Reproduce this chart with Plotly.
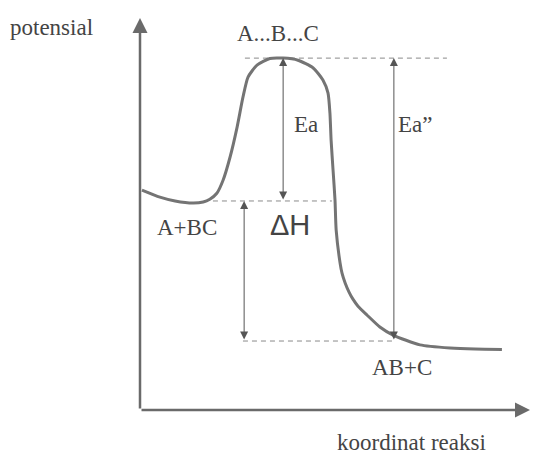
import plotly.graph_objects as go

# Reaction coordinate (arbitrary units) and potential energy (arbitrary units)
reaction_coord = [0.5, 5.1, 9.0, 13.6, 16.2, 17.9, 19.7, 21.3, 23.1, 24.9, 26.4, 27.7,
                  30.0, 33.3, 36.7, 40.5, 44.4, 46.9, 48.2, 48.7, 49.0, 49.5, 50.0,
                  50.3, 51.3, 51.8, 52.6, 53.6, 54.6, 55.9, 58.2, 61.5, 64.9, 71.8,
                  79.5, 85.9, 92.8]
potential = [62.5, 60.5, 59.4, 58.8, 59.1, 59.9, 61.6, 65.3, 71.9, 80.4, 88.9, 94.6,
             98.0, 99.9, 100.0, 99.4, 97.2, 93.8, 90.1, 84.4, 76.7, 68.2, 59.7,
             51.1, 41.8, 38.9, 36.1, 33.5, 31.5, 29.5, 27.0, 23.6, 21.3, 18.5,
             17.6, 17.3, 17.2]

E_TS = 100.0      # A...B...C
E_REACT = 59.4    # A+BC
E_PROD = 19.6     # AB+C

# horizontal extents of the dashed level lines (reaction coordinate)
top_dash = [26.9, 78.7]
mid_dash = [18.7, 49.2]
bot_dash = [26.4, 65.4]

# x positions of the vertical double arrows
x_Ea = 36.7
x_dH = 26.7
x_Ea2 = 65.1

X_MAX = 100.0
Y_MAX = 111.4

fig = go.Figure()

dash_col = "#8a8a8a"
for xs, lvl in [(top_dash, E_TS), (mid_dash, E_REACT), (bot_dash, E_PROD)]:
    fig.add_trace(go.Scatter(x=xs, y=[lvl, lvl], mode="lines",
                             line=dict(color=dash_col, width=1, dash="5px,4px"),
                             hoverinfo="skip", showlegend=False))

fig.add_trace(go.Scatter(x=reaction_coord, y=potential, mode="lines",
                         line=dict(color="#747474", width=3, shape="spline", smoothing=0.6),
                         hoverinfo="skip", showlegend=False))

ann = []
# axes arrows
ann.append(dict(x=0, y=Y_MAX, ax=0, ay=0, xref="x", yref="y", axref="x", ayref="y",
                text="", showarrow=True, arrowhead=2, arrowsize=1.2, arrowwidth=2.5,
                arrowcolor="#6a6a6a", standoff=0))
ann.append(dict(x=X_MAX, y=0, ax=0, ay=0, xref="x", yref="y", axref="x", ayref="y",
                text="", showarrow=True, arrowhead=2, arrowsize=1.2, arrowwidth=2.5,
                arrowcolor="#6a6a6a", standoff=0))
# double arrows
for xv, y0, y1 in [(x_Ea, E_REACT, E_TS), (x_dH, E_PROD, E_REACT), (x_Ea2, E_PROD, E_TS)]:
    ann.append(dict(x=xv, y=y1, ax=xv, ay=y0, xref="x", yref="y", axref="x", ayref="y",
                    text="", showarrow=True, arrowhead=2, startarrowhead=2,
                    arrowside="end+start", arrowsize=1.6, startarrowsize=1.6,
                    arrowwidth=1, arrowcolor="#555555", standoff=0, startstandoff=0))

serif = dict(family="Liberation Serif, Times New Roman, serif", size=23, color="#444444")
labels = [
    ("A...B...C", 35.4, 107.1),
    ("Ea", 42.6, 81.0),
    ("Ea\u201d", 70.5, 81.0),
    ("A+BC", 12.1, 52.0),
    ("AB+C", 67.2, 12.2),
]
for t, xv, yv in labels:
    ann.append(dict(x=xv, y=yv, xref="x", yref="y", text=t, showarrow=False,
                    font=serif, xanchor="center", yanchor="middle"))
# axis titles placed in paper coordinates (outside the plotting area)
ann.append(dict(x=-0.226, y=0.975, xref="paper", yref="paper", text="potensial",
                showarrow=False, font=serif, xanchor="center", yanchor="middle"))
ann.append(dict(x=0.697, y=-0.084, xref="paper", yref="paper", text="koordinat reaksi",
                showarrow=False, font=serif, xanchor="center", yanchor="middle"))
ann.append(dict(x=38.5, y=52.6, xref="x", yref="y", text="\u0394H", showarrow=False,
                font=dict(family="Liberation Sans, Arial, sans-serif", size=29, color="#444444"),
                xanchor="center", yanchor="middle"))

fig.update_layout(
    width=534, height=454, autosize=False,
    margin=dict(l=140, r=4, t=18, b=44, pad=0),
    paper_bgcolor="white", plot_bgcolor="white",
    xaxis=dict(range=[0, X_MAX], visible=False, fixedrange=True),
    yaxis=dict(range=[0, Y_MAX], visible=False, fixedrange=True),
    annotations=ann,
    showlegend=False,
)

fig.write_html("out.html", config={"displayModeBar": False},
               post_script="document.body.style.margin='0';document.body.style.padding='0';")
